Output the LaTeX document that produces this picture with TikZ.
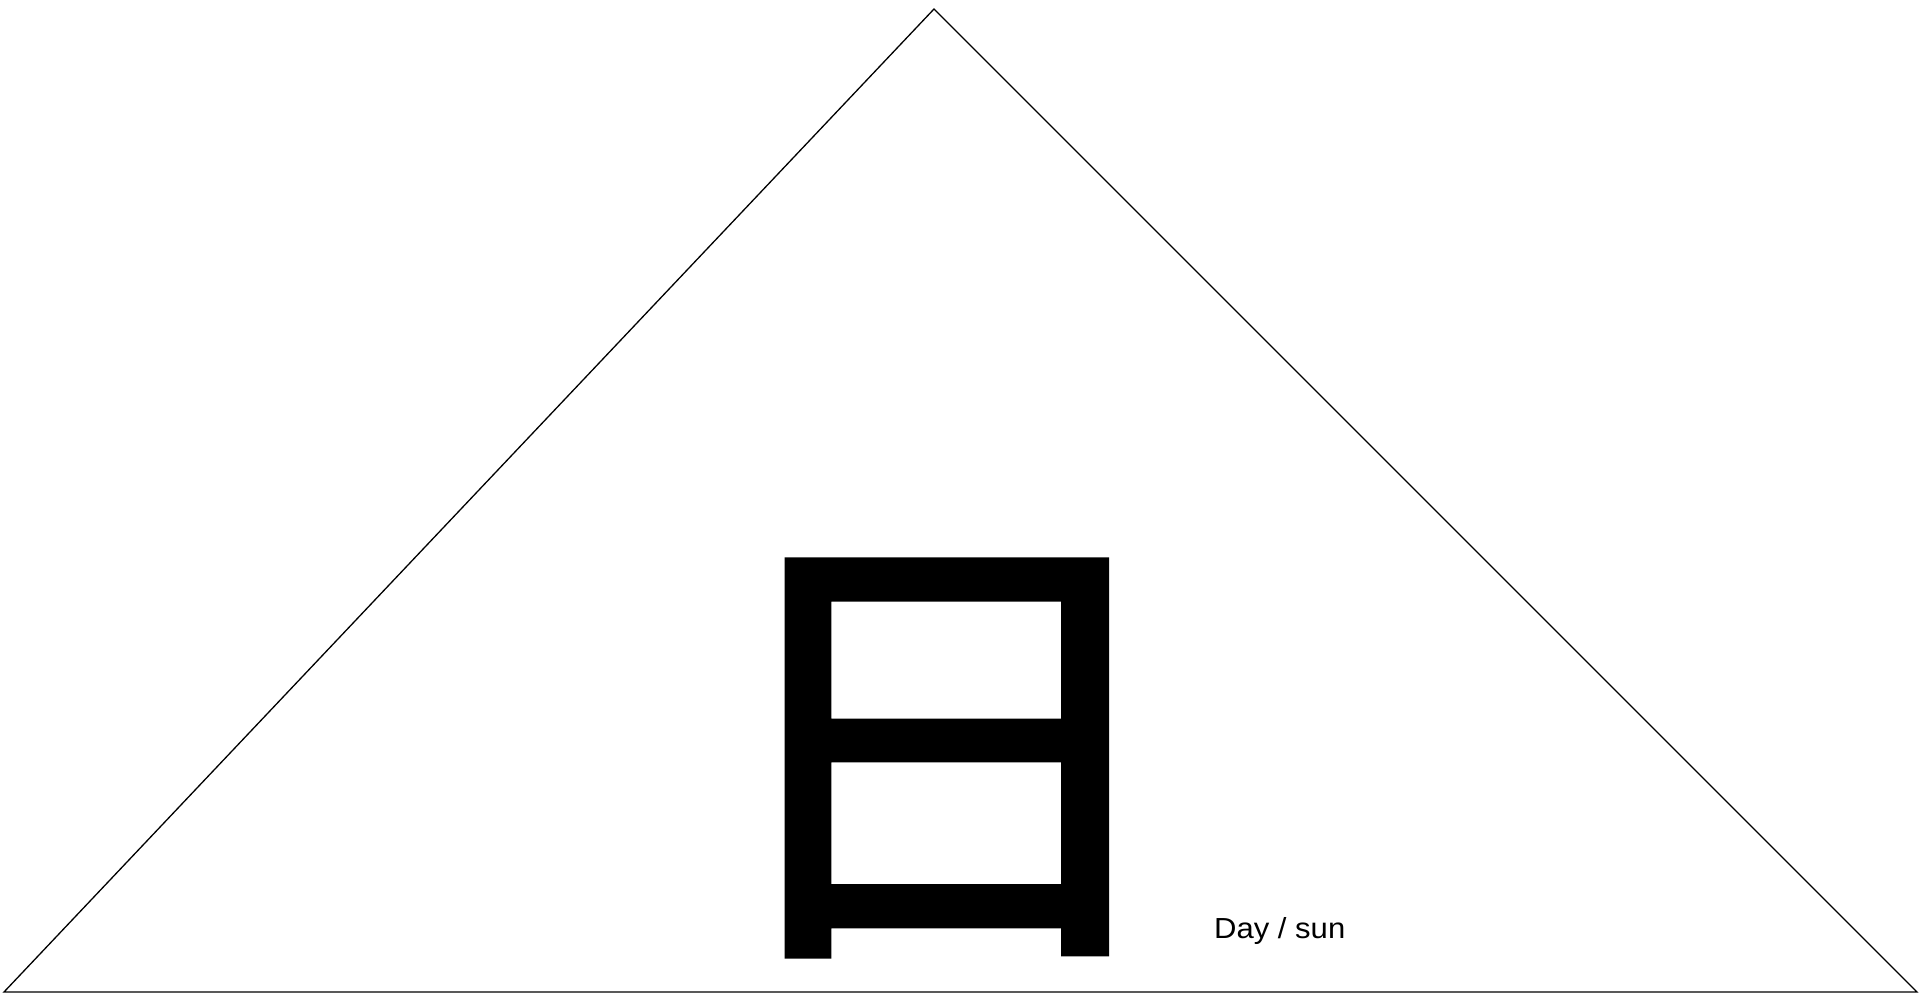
\documentclass[tikz,border=0pt]{standalone}
\usepackage{fontspec}
\setmainfont{Liberation Sans}
\newfontfamily\cjk[FakeBold=2]{Noto Sans CJK SC}
\begin{document}
\begin{tikzpicture}[x=1pt,y=-1pt,
  edge/.style={line width=1.3pt, line join=miter},
  glyph/.style={inner sep=0pt, outer sep=0pt},
  caption/.style={inner sep=0pt, anchor=base west, font=\fontsize{29}{33}\selectfont}]
\useasboundingbox (0,0) rectangle (1920,994);
\coordinate (apex) at (934,9);
\coordinate (bl) at (4,992);
\coordinate (br) at (1917,992);
\draw[edge] (apex) -- (br) -- (bl) -- cycle;
\node[glyph] (sun) at (945,758) {\scalebox{1.03}[1]{\cjk\fontsize{466}{486}\selectfont 日}};
\node[caption] (lbl) at (1214,938) {\scalebox{1.07}[1]{Day / sun}};
\end{tikzpicture}
\end{document}
